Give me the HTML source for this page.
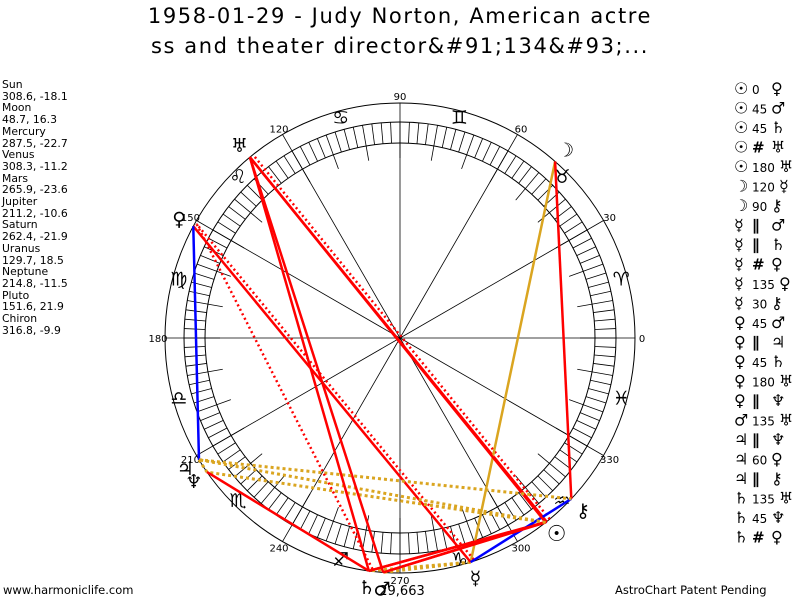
<!DOCTYPE html>
<html><head><meta charset="utf-8">
<style>
html,body{margin:0;padding:0;background:#fff;}
body{width:800px;height:600px;overflow:hidden;position:relative;font-family:"DejaVu Sans","Liberation Sans",sans-serif;}
.title{position:absolute;left:0;width:800px;text-align:center;font-size:21px;letter-spacing:1.6px;color:#000;}
#plist{position:absolute;left:2px;top:79px;font-size:10.8px;line-height:11.7px;color:#000;}
.foot{position:absolute;top:583px;font-size:11.5px;}
</style></head><body>
<div class="title" style="top:4px">1958-01-29 - Judy Norton, American actre</div>
<div class="title" style="top:34px">ss and theater director&amp;#91;134&amp;#93;...</div>
<div id="plist">Sun<br>308.6, -18.1<br>Moon<br>48.7, 16.3<br>Mercury<br>287.5, -22.7<br>Venus<br>308.3, -11.2<br>Mars<br>265.9, -23.6<br>Jupiter<br>211.2, -10.6<br>Saturn<br>262.4, -21.9<br>Uranus<br>129.7, 18.5<br>Neptune<br>214.8, -11.5<br>Pluto<br>151.6, 21.9<br>Chiron<br>316.8, -9.9</div>
<div class="foot" style="left:3px">www.harmoniclife.com</div>
<div class="foot" style="left:615px">AstroChart Patent Pending</div>
<svg id="chart" width="800" height="600" style="position:absolute;left:0;top:0" xmlns="http://www.w3.org/2000/svg"></svg>
<script>
const planetNames = ["Sun","Moon","Mercury","Venus","Mars","Jupiter","Saturn","Uranus","Neptune","Pluto","Chiron"];
const planetLon = [308.6,48.7,287.5,308.3,265.9,211.2,262.4,129.7,214.8,151.6,316.8];
const planetGlyph = ["\u2609","\u263D","\u263F","\u2640","\u2642","\u2643","\u2644","\u2645","\u2646","\u2640","\u26B7"];
const aspFrom = [0,0,0,0,0,1,1,2,2,2,2,2,3,3,3,3,3,4,5,5,5,6,6,6];
const aspTo   = [3,4,6,7,7,2,10,4,6,9,9,10,4,5,6,7,8,7,8,9,10,7,8,9];
const aspLabel = ["0","45","45","\u2AF2","180","120","90","||","||","\u2AF2","135","30","45","||","45","180","||","135","||","60","||","135","45","\u2AF2"];
const signGlyphs = ["\u2648","\u2649","\u264A","\u264B","\u264C","\u264D","\u264E","\u264F","\u2650","\u2651","\u2652","\u2653"];
const degLabels = ["0","30","60","90","120","150","180","210","240","270","300","330"];

const NS="http://www.w3.org/2000/svg";
const svg=document.getElementById('chart');
const CX=400, CY=338, R=235, RT=216, RI=195;
function px(a,r){return CX+r*Math.cos(a*Math.PI/180);}
function py(a,r){return CY-r*Math.sin(a*Math.PI/180);}
function mk(tag,attrs,parent){const e=document.createElementNS(NS,tag);for(const k in attrs)e.setAttribute(k,attrs[k]);(parent||svg).appendChild(e);return e;}
function styleFor(l){
  if(l==="\u2AF2") return {stroke:"#ff0000",w:2.5,dash:"2,3",off:4};
  if(l==="||") return {stroke:"#daa520",w:3,dash:"3,3",off:0};
  if(l==="120") return {stroke:"#daa520",w:2.5,dash:"",off:0};
  if(l==="30"||l==="60"||l==="0") return {stroke:"#0000ff",w:2.5,dash:"",off:0};
  return {stroke:"#ff0000",w:2.5,dash:"",off:0};
}
let c=mk('circle',{cx:CX,cy:CY,r:R,fill:'none',stroke:'#000','stroke-width':1});

c=mk('circle',{cx:CX,cy:CY,r:RT,fill:'none',stroke:'#000','stroke-width':1});

c=mk('circle',{cx:CX,cy:CY,r:RI,fill:'none',stroke:'#000','stroke-width':1});

for(let d=0;d<360;d+=2.5){
  const r0=(d%10===0)?180:RI;
  const t=mk('line',{x1:px(d,r0),y1:py(d,r0),x2:px(d,RT),y2:py(d,RT),stroke:'#000','stroke-width':0.8});
  
}
degLabels.forEach((lab,i)=>{
  const a=i*30;
  const l=mk('line',{x1:CX,y1:CY,x2:px(a,R),y2:py(a,R),stroke:'#000','stroke-width':0.8});
  
  const t=mk('text',{x:px(a,242),y:py(a,242)+4,'font-size':10,'text-anchor':'middle','font-family':'DejaVu Sans, sans-serif',fill:'#000'});
  t.textContent=lab;
  
});
signGlyphs.forEach((g,i)=>{
  const a=i*30+15;
  const t=mk('text',{x:px(a,229),y:py(a,229)+7,'font-size':19,'text-anchor':'middle','font-family':'DejaVu Sans, sans-serif',fill:'#000'});
  t.textContent=g+"\uFE0E";
  
});
aspFrom.forEach((f,i)=>{
  const to=aspTo[i];const s=styleFor(aspLabel[i]);
  const a1=planetLon[f],a2=planetLon[to];
  let x1=px(a1,R),y1=py(a1,R),x2=px(a2,R),y2=py(a2,R);
  if(s.off){const dx=x2-x1,dy=y2-y1,L=Math.hypot(dx,dy);const nx=-dy/L*s.off,ny=dx/L*s.off;x1+=nx;y1+=ny;x2+=nx;y2+=ny;}
  const l=mk('line',{x1:x1,y1:y1,x2:x2,y2:y2,stroke:s.stroke,'stroke-width':s.w});
  if(s.dash)l.setAttribute('stroke-dasharray',s.dash);
  
});
planetLon.forEach((lon,i)=>{
  if(i===3) return;
  const t=mk('text',{x:px(lon,251),y:py(lon,251)+7,'font-size':i===0?22:19,'font-weight':'bold','text-anchor':'middle','font-family':'DejaVu Sans, sans-serif',fill:'#000'});
  t.textContent=planetGlyph[i]+"\uFE0E";
  
});
let tx=mk('text',{x:402,y:595,'font-size':13,'text-anchor':'middle','font-family':'DejaVu Sans, sans-serif'});
tx.textContent="29,663";
aspFrom.forEach((f,i)=>{
  const y=94+i*19.5;
  const t=mk('text',{x:734,y:y,'font-size':16,'font-weight':'bold','font-family':'DejaVu Sans, sans-serif',fill:'#000'});
  const lab=aspLabel[i];
  const par = (lab==="||"||lab==="\u2AF2");
  const mid = lab==="||"?"\u2225":(lab==="\u2AF2"?"#":lab);
  t.innerHTML='<tspan>'+planetGlyph[f]+'\uFE0E</tspan><tspan x="752" font-size="'+(par?15:12)+'" font-weight="'+(par?'bold':'normal')+'">'+mid+'</tspan><tspan x="'+(lab.length>2?779:771)+'">'+planetGlyph[aspTo[i]]+'\uFE0E</tspan>';
  
});
</script>
</body></html>
